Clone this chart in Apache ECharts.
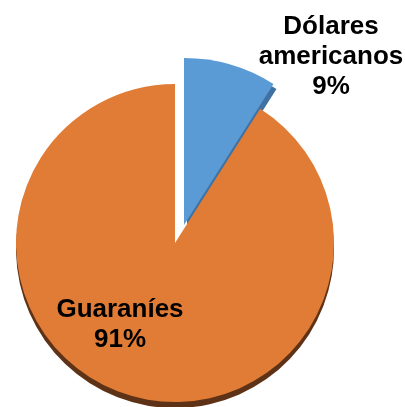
<!DOCTYPE html>
<html><head><meta charset="utf-8">
<script src="https://cdn.jsdelivr.net/npm/echarts@6/dist/echarts.min.js"></script>
<style>html,body{margin:0;padding:0;background:#fff}#c{width:405px;height:407px}</style>
</head><body><div id="c"></div>
<script>
const categories = ['Dólares americanos', 'Guaraníes'];
const values = [9, 91];
const faceColors = ['#5B9BD5', '#E17C36'];
const sideColors = ['#3F72A3', '#5E3216'];

const chart = echarts.init(document.getElementById('c'), null, {renderer: 'canvas'});

function items(show, colors, withLabel) {
  return categories.map((n, i) => ({
    name: n,
    value: values[i],
    itemStyle: { color: i === show ? colors[i] : 'transparent', borderWidth: 0 },
    label: { show: withLabel && i === show }
  }));
}

const labelStyle = {
  formatter: p => p.name.replace(' ', '\n') + '\n' + p.percent + '%',
  fontFamily: 'Liberation Sans, Arial, sans-serif',
  fontWeight: 'bold',
  fontSize: 26,
  lineHeight: 30,
  color: '#000',
  align: 'center',
  overflow: 'none'
};

const labelPos = [[331, 57], [120, 325]];

function pie(idx, center, radius, colors, z, withLabel) {
  return {
    type: 'pie',
    silent: true,
    animation: false,
    startAngle: 90,
    clockwise: true,
    center: center,
    radius: [0, radius],
    z: z,
    label: Object.assign({ show: withLabel, position: 'inside' }, labelStyle),
    labelLine: { show: false },
    labelLayout: withLabel ? function (p) {
      return { x: labelPos[p.dataIndex][0], y: labelPos[p.dataIndex][1], align: 'center', verticalAlign: 'middle' };
    } : undefined,
    data: items(idx, colors, withLabel)
  };
}

chart.setOption({
  backgroundColor: '#fff',
  series: [
    pie(1, [175, 249], 159, sideColors, 1, false),
    pie(0, [187, 230], 167, sideColors, 2, false),
    pie(1, [175, 243], 159, faceColors, 3, true),
    pie(0, [184, 225], 167, faceColors, 4, true)
  ]
});
</script></body></html>
